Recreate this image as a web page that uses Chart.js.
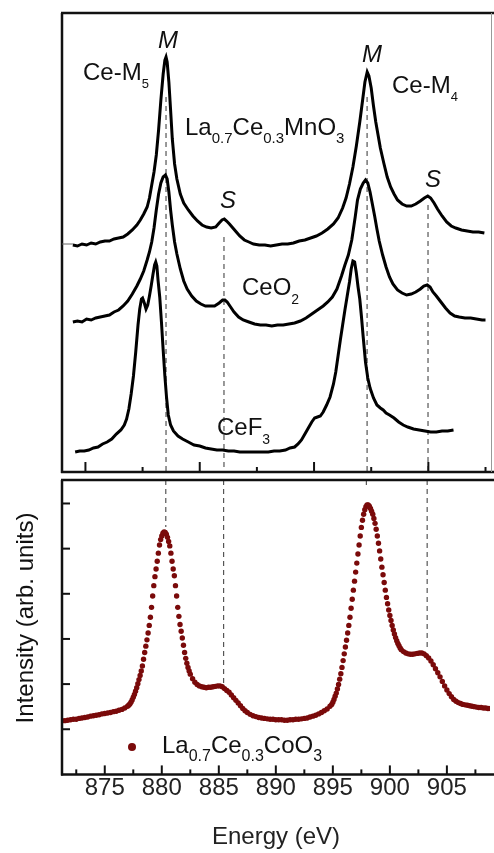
<!DOCTYPE html>
<html><head><meta charset="utf-8">
<script src="https://cdn.jsdelivr.net/npm/chart.js@4.4.0/dist/chart.umd.min.js"></script>
<style>
html,body{margin:0;padding:0;background:#fff;}
#wrap{position:relative;width:494px;height:853px;overflow:hidden;}
#top{position:absolute;left:0;top:0;}
#bot{position:absolute;left:0;top:476px;}
</style></head><body>
<div id="wrap"><canvas id="top" width="494" height="476"></canvas><canvas id="bot" width="494" height="377"></canvas></div>
<script>
// ---------------- DATA ----------------
const energyMn = [872.2,872.6,873.0,873.4,873.8,874.2,874.6,875.0,875.4,875.8,876.2,876.6,877.0,877.4,877.8,878.1,878.4,878.7,878.9,879.1,879.3,879.5,879.7,879.9,880.1,880.25,880.35,880.45,880.6,880.75,880.9,881.1,881.3,881.6,881.9,882.3,882.7,883.1,883.5,883.9,884.3,884.7,885.0,885.25,885.45,885.65,885.9,886.2,886.5,886.8,887.2,887.6,888.0,888.5,889.0,889.5,890.0,890.5,891.0,891.5,892.0,892.5,893.0,893.5,894.0,894.5,895.0,895.4,895.8,896.1,896.4,896.7,897.0,897.3,897.55,897.75,897.95,898.1,898.3,898.5,898.7,898.9,899.1,899.4,899.7,900.0,900.3,900.6,901.0,901.4,901.8,902.2,902.6,902.95,903.25,903.5,903.8,904.1,904.5,904.9,905.3,905.7,906.2,906.7,907.2,907.7,908.2];
const intensityMn = [2.27,2.26,2.28,2.27,2.29,2.28,2.30,2.31,2.31,2.33,2.34,2.35,2.38,2.42,2.47,2.52,2.58,2.65,2.74,2.87,3.00,3.17,3.42,3.72,3.98,4.12,4.15,4.10,3.90,3.62,3.33,3.08,2.93,2.78,2.69,2.62,2.56,2.51,2.47,2.45,2.44,2.45,2.49,2.52,2.53,2.51,2.48,2.44,2.40,2.36,2.32,2.30,2.28,2.27,2.27,2.26,2.27,2.28,2.28,2.29,2.31,2.32,2.34,2.36,2.39,2.43,2.48,2.54,2.64,2.74,2.88,3.05,3.26,3.50,3.72,3.90,4.00,3.96,3.84,3.66,3.50,3.37,3.24,3.09,2.95,2.85,2.78,2.72,2.68,2.66,2.66,2.68,2.71,2.74,2.76,2.74,2.69,2.63,2.56,2.50,2.46,2.44,2.42,2.41,2.40,2.40,2.39];

const energyCeO2 = [872.2,872.6,873.0,873.4,873.8,874.2,874.6,875.0,875.4,875.8,876.2,876.6,877.0,877.4,877.8,878.1,878.4,878.7,878.9,879.1,879.3,879.5,879.7,879.9,880.1,880.3,880.45,880.6,880.75,880.9,881.1,881.3,881.6,881.9,882.2,882.6,883.0,883.4,883.8,884.2,884.6,885.0,885.3,885.5,885.7,886.0,886.3,886.7,887.1,887.6,888.1,888.6,889.1,889.6,890.1,890.6,891.1,891.6,892.1,892.6,893.1,893.6,894.1,894.5,894.9,895.3,895.7,896.0,896.3,896.6,896.9,897.1,897.35,897.6,897.8,898.0,898.2,898.4,898.6,898.8,899.0,899.3,899.6,899.9,900.2,900.6,901.0,901.4,901.8,902.2,902.6,902.9,903.2,903.45,903.7,904.0,904.4,904.8,905.2,905.6,906.0,906.5,907.0,907.5,908.0,908.3];
const intensityCeO2 = [1.50,1.51,1.50,1.53,1.52,1.54,1.55,1.56,1.57,1.60,1.62,1.66,1.71,1.78,1.86,1.93,2.01,2.12,2.20,2.30,2.44,2.62,2.78,2.89,2.95,2.97,2.93,2.80,2.62,2.47,2.30,2.18,2.03,1.91,1.83,1.76,1.71,1.68,1.66,1.66,1.66,1.69,1.72,1.72,1.70,1.65,1.60,1.55,1.52,1.50,1.48,1.47,1.47,1.46,1.47,1.47,1.48,1.49,1.51,1.54,1.58,1.62,1.66,1.70,1.75,1.83,1.96,2.07,2.17,2.32,2.55,2.72,2.83,2.89,2.92,2.89,2.80,2.68,2.56,2.43,2.31,2.17,2.05,1.95,1.88,1.82,1.79,1.77,1.78,1.80,1.83,1.86,1.87,1.85,1.80,1.76,1.70,1.64,1.59,1.56,1.55,1.54,1.54,1.53,1.52,1.52];

const energyCeF3 = [872.4,872.8,873.2,873.6,874.0,874.4,874.8,875.2,875.6,876.0,876.4,876.7,876.9,877.1,877.3,877.5,877.7,877.9,878.05,878.2,878.3,878.45,878.6,878.75,878.9,879.05,879.2,879.35,879.45,879.55,879.65,879.8,879.95,880.1,880.25,880.4,880.55,880.75,881.0,881.4,881.8,882.3,882.8,883.3,883.8,884.3,884.8,885.3,885.8,886.3,886.8,887.3,887.8,888.3,888.8,889.3,889.8,890.3,890.8,891.2,891.6,891.9,892.2,892.5,892.8,893.1,893.35,893.6,893.85,894.1,894.4,894.7,895.0,895.2,895.4,895.6,895.8,896.0,896.2,896.4,896.55,896.7,896.85,897.0,897.15,897.3,897.45,897.6,897.8,898.0,898.2,898.5,898.8,899.1,899.35,899.6,899.9,900.3,900.7,901.1,901.5,902.0,902.5,903.0,903.5,904.0,904.5,905.0,905.5];
const intensityCeF3 = [0.20,0.21,0.21,0.22,0.24,0.25,0.28,0.30,0.33,0.38,0.42,0.47,0.53,0.63,0.78,0.96,1.20,1.47,1.63,1.73,1.74,1.69,1.63,1.67,1.76,1.86,1.97,2.07,2.10,2.06,1.92,1.75,1.50,1.22,0.96,0.74,0.57,0.47,0.41,0.36,0.33,0.30,0.27,0.26,0.24,0.23,0.22,0.22,0.21,0.21,0.20,0.20,0.20,0.20,0.20,0.20,0.21,0.21,0.22,0.24,0.25,0.28,0.32,0.38,0.44,0.50,0.54,0.55,0.56,0.60,0.67,0.75,0.88,1.00,1.16,1.32,1.47,1.62,1.76,1.90,2.03,2.11,2.10,1.99,1.85,1.73,1.55,1.35,1.10,0.94,0.84,0.74,0.67,0.64,0.62,0.59,0.57,0.54,0.50,0.47,0.45,0.43,0.42,0.41,0.40,0.40,0.41,0.41,0.42];

const energyCo = [871.0,871.25,871.5,871.75,872.0,872.25,872.5,872.75,873.0,873.25,873.5,873.75,874.0,874.25,874.5,874.75,875.0,875.25,875.5,875.75,876.0,876.25,876.5,876.75,877.0,
877.1,877.2,877.3,877.4,877.5,877.6,877.7,877.8,877.9,878.0,878.1,878.2,878.3,878.4,878.5,878.6,878.7,878.8,878.9,879.0,879.1,879.2,879.3,879.4,879.5,879.6,879.7,879.8,879.9,880.0,880.1,880.2,880.3,880.4,880.5,880.6,880.7,880.8,880.9,881.0,881.1,881.2,881.3,881.4,881.5,881.6,881.7,881.8,881.9,882.0,882.1,882.2,882.3,882.4,882.5,
882.7,882.9,883.1,883.3,883.5,883.7,883.9,884.1,884.3,884.5,884.7,884.9,885.1,885.3,885.5,885.7,885.9,886.1,886.3,886.5,886.7,886.9,887.1,887.3,887.5,
887.75,888.0,888.25,888.5,888.75,889.0,889.25,889.5,889.75,890.0,890.25,890.5,890.75,891.0,891.25,891.5,891.75,892.0,892.25,892.5,892.75,893.0,893.25,893.5,893.75,894.0,894.25,894.5,894.75,
894.9,895.0,895.1,895.2,895.3,895.4,895.5,895.6,895.7,895.8,895.9,896.0,896.1,896.2,896.3,896.4,896.5,896.6,896.7,896.8,896.9,897.0,897.1,897.2,897.3,897.4,897.5,897.6,897.7,897.8,897.9,898.0,898.1,898.2,898.3,898.4,898.5,898.6,898.7,898.8,898.9,899.0,899.1,899.2,899.3,899.4,899.5,899.6,899.7,899.8,899.9,900.0,900.1,900.2,900.3,900.4,900.5,900.6,900.7,900.8,900.9,901.0,
901.2,901.4,901.6,901.8,902.0,902.2,902.4,902.6,902.8,903.0,903.2,903.4,903.6,903.8,904.0,904.2,904.4,904.6,904.8,905.0,905.2,905.4,905.6,905.8,906.0,906.2,906.4,906.6,906.8,907.0,907.2,907.4,907.6,907.8,908.0,908.2,908.4,908.6,908.8,909.0];
const intensityCo = [1.18,1.19,1.19,1.20,1.21,1.22,1.22,1.24,1.25,1.26,1.27,1.29,1.30,1.31,1.32,1.34,1.35,1.36,1.37,1.39,1.40,1.42,1.44,1.47,1.51,
1.53,1.56,1.60,1.65,1.71,1.77,1.84,1.92,2.01,2.10,2.19,2.29,2.40,2.55,2.70,2.84,2.98,3.13,3.30,3.48,3.70,3.95,4.18,4.38,4.55,4.72,4.90,5.08,5.20,5.28,5.34,5.37,5.36,5.32,5.25,5.16,5.06,4.90,4.72,4.55,4.40,4.18,3.95,3.70,3.50,3.32,3.17,3.02,2.86,2.70,2.57,2.46,2.37,2.29,2.22,
2.12,2.04,1.99,1.96,1.94,1.93,1.92,1.93,1.93,1.94,1.95,1.96,1.96,1.94,1.90,1.86,1.82,1.76,1.70,1.64,1.58,1.52,1.46,1.41,1.37,
1.33,1.30,1.28,1.26,1.25,1.24,1.23,1.22,1.22,1.21,1.21,1.21,1.20,1.20,1.21,1.21,1.22,1.22,1.23,1.24,1.25,1.27,1.29,1.31,1.34,1.37,1.41,1.45,1.51,
1.55,1.60,1.66,1.73,1.80,1.89,1.99,2.11,2.23,2.37,2.52,2.67,2.82,2.97,3.13,3.30,3.48,3.68,3.88,4.08,4.28,4.48,4.68,4.88,5.08,5.28,5.47,5.63,5.76,5.86,5.93,5.97,5.97,5.94,5.89,5.83,5.76,5.67,5.56,5.43,5.28,5.12,4.95,4.77,4.59,4.42,4.25,4.08,3.92,3.78,3.64,3.52,3.41,3.30,3.20,3.11,3.03,2.96,2.90,2.85,2.80,2.76,
2.72,2.69,2.67,2.66,2.66,2.67,2.68,2.69,2.69,2.67,2.63,2.58,2.51,2.43,2.34,2.25,2.16,2.06,1.96,1.87,1.79,1.72,1.66,1.62,1.59,1.57,1.55,1.54,1.53,1.52,1.51,1.50,1.49,1.48,1.48,1.47,1.47,1.46,1.46,1.45];

// dashed guide lines (energies of M and S features)
const guideEnergy   = [880.35, 885.42, 897.94, 903.27];
const guideTopStart = [3.75, 2.35, 3.75, 2.67];   // top panel: from this intensity down to 0
const guideBotEnd   = [5.48, 2.00, 6.37, 2.80];   // bottom panel: from top down to this intensity

// ticks
const xTickLabels   = [875, 880, 885, 890, 895, 900, 905];
const xMinorTicks   = [872.5, 877.5, 882.5, 887.5, 892.5, 897.5, 902.5, 907.5];
const topPanelTicks = [873.3, 878.3, 883.3, 888.3, 893.3, 898.3, 903.3, 908.3];
const botYTicks     = [1, 2, 3, 4, 5, 6];
const topYTick      = [2.28];

const X_MIN = 871.25, X_MAX = 908.78;
const FONT = '"Liberation Sans", Arial, Helvetica, sans-serif';
Chart.defaults.font.family = FONT;

const pts = (xs, ys) => xs.map((x, i) => ({x: x, y: ys[i]}));

function rich(ctx, x, y, parts, size, subSize, subDy) {
  let cx = x;
  ctx.textAlign = 'left'; ctx.textBaseline = 'alphabetic';
  for (const [t, kind] of parts) {
    if (kind === 's') {
      ctx.font = subSize + 'px ' + FONT;
      ctx.fillText(t, cx, y + subDy);
    } else if (kind === 'i') {
      ctx.font = 'italic ' + size + 'px ' + FONT;
      ctx.fillText(t, cx, y);
    } else {
      ctx.font = size + 'px ' + FONT;
      ctx.fillText(t, cx, y);
    }
    cx += ctx.measureText(t).width;
  }
}

function line(ctx, x1, y1, x2, y2) { ctx.beginPath(); ctx.moveTo(x1, y1); ctx.lineTo(x2, y2); ctx.stroke(); }

// ---------------- TOP PANEL ----------------
const topFrame = {
  id: 'topFrame',
  afterDraw(chart) {
    const ctx = chart.ctx, a = chart.chartArea, xs = chart.scales.x, ys = chart.scales.y;
    ctx.save();
    ctx.strokeStyle = '#111'; ctx.lineWidth = 2.5; ctx.lineCap = 'butt';
    line(ctx, a.left - 1, a.top, chart.width, a.top);
    line(ctx, a.left, a.top, a.left, a.bottom + 1);
    line(ctx, a.left - 1, a.bottom, chart.width, a.bottom);
    ctx.lineWidth = 1; ctx.strokeStyle = '#999';
    line(ctx, a.right + 0.5, a.top, a.right + 0.5, a.bottom);
    ctx.strokeStyle = '#111'; ctx.lineWidth = 2;
    topPanelTicks.forEach((v, i) => {
      const px = xs.getPixelForValue(v);
      line(ctx, px, a.bottom, px, a.bottom - (i % 2 === 0 ? 10 : 5));
    });
    ctx.lineWidth = 1; ctx.strokeStyle = '#666';
    topYTick.forEach(v => { const py = ys.getPixelForValue(v); line(ctx, a.left, py, a.left + 11, py); });
    ctx.fillStyle = '#111';
    rich(ctx, 158, 48, [['M', 'i']], 24, 14, 8);
    rich(ctx, 362, 62, [['M', 'i']], 24, 14, 8);
    rich(ctx, 83, 80, [['Ce-M', 'n'], ['5', 's']], 24, 13, 8);
    rich(ctx, 185, 135, [['La', 'n'], ['0.7', 's'], ['Ce', 'n'], ['0.3', 's'], ['MnO', 'n'], ['3', 's']], 24, 15, 8);
    rich(ctx, 220, 208, [['S', 'i']], 24, 14, 8);
    rich(ctx, 425, 187, [['S', 'i']], 24, 14, 8);
    rich(ctx, 392, 93, [['Ce-M', 'n'], ['4', 's']], 24, 13, 8);
    rich(ctx, 242, 295, [['CeO', 'n'], ['2', 's']], 24, 14, 9);
    rich(ctx, 217, 435, [['CeF', 'n'], ['3', 's']], 24, 14, 9);
    ctx.restore();
  }
};

const curveStyle = {showLine: true, pointRadius: 0, borderColor: '#000', borderWidth: 3, tension: 0, fill: false};
const dashStyle = {showLine: true, pointRadius: 0, borderColor: '#555', borderWidth: 1.2, borderDash: [5, 4], fill: false};

const topDatasets = [
  Object.assign({label: 'La0.7Ce0.3MnO3', data: pts(energyMn, intensityMn)}, curveStyle),
  Object.assign({label: 'CeO2', data: pts(energyCeO2, intensityCeO2)}, curveStyle),
  Object.assign({label: 'CeF3', data: pts(energyCeF3, intensityCeF3)}, curveStyle)
];
guideEnergy.forEach((e, i) => topDatasets.push(Object.assign({label: 'g' + i, data: [{x: e, y: guideTopStart[i]}, {x: e, y: 0}]}, dashStyle)));

new Chart(document.getElementById('top'), {
  type: 'scatter',
  data: {datasets: topDatasets},
  options: {
    responsive: false, animation: false, devicePixelRatio: 1, events: [],
    layout: {padding: {left: 62, right: 3, top: 13, bottom: 4}},
    plugins: {legend: {display: false}, tooltip: {enabled: false}},
    scales: {
      x: {type: 'linear', min: X_MIN, max: X_MAX, display: false},
      y: {type: 'linear', min: 0, max: 4.59, display: false}
    }
  },
  plugins: [topFrame]
});

// ---------------- BOTTOM PANEL ----------------
const botFrame = {
  id: 'botFrame',
  afterDraw(chart) {
    const ctx = chart.ctx, a = chart.chartArea, xs = chart.scales.x, ys = chart.scales.y;
    ctx.save();
    ctx.strokeStyle = '#111'; ctx.lineWidth = 2.5;
    line(ctx, a.left - 1, a.top, chart.width, a.top);
    line(ctx, a.left, a.top, a.left, a.bottom + 1);
    line(ctx, a.left - 1, a.bottom, chart.width, a.bottom);
    ctx.lineWidth = 2;
    xTickLabels.forEach(v => { const px = xs.getPixelForValue(v); line(ctx, px, a.bottom, px, a.bottom - 9); });
    xMinorTicks.forEach(v => { const px = xs.getPixelForValue(v); line(ctx, px, a.bottom, px, a.bottom - 5); });
    botYTicks.forEach(v => { const py = ys.getPixelForValue(v); line(ctx, a.left, py, a.left + 8, py); });
    // legend
    ctx.fillStyle = '#7a0a0a';
    ctx.beginPath(); ctx.arc(132, 271, 4, 0, Math.PI * 2); ctx.fill();
    ctx.fillStyle = '#111';
    rich(ctx, 162, 277, [['La', 'n'], ['0.7', 's'], ['Ce', 'n'], ['0.3', 's'], ['CoO', 'n'], ['3', 's']], 24, 16, 8);
    // y title
    ctx.save();
    ctx.translate(33, 142); ctx.rotate(-Math.PI / 2);
    ctx.font = '24px ' + FONT; ctx.textAlign = 'center'; ctx.textBaseline = 'alphabetic';
    ctx.fillText('Intensity (arb. units)', 0, 0);
    ctx.restore();
    ctx.restore();
  }
};

const botDatasets = [
  {label: 'La0.7Ce0.3CoO3', data: pts(energyCo, intensityCo), showLine: false, pointRadius: 2.7, pointBackgroundColor: '#7a0a0a', pointBorderWidth: 0, backgroundColor: '#7a0a0a'}
];
guideEnergy.forEach((e, i) => botDatasets.push(Object.assign({label: 'h' + i, data: [{x: e, y: 6.52}, {x: e, y: guideBotEnd[i]}]}, dashStyle)));

new Chart(document.getElementById('bot'), {
  type: 'scatter',
  data: {datasets: botDatasets},
  options: {
    responsive: false, animation: false, devicePixelRatio: 1, events: [],
    layout: {padding: {left: 62, right: 3, top: 2, bottom: 0}},
    plugins: {legend: {display: false}, tooltip: {enabled: false}},
    scales: {
      x: {
        type: 'linear', min: X_MIN, max: X_MAX, position: 'bottom',
        afterBuildTicks: s => { s.ticks = xTickLabels.map(v => ({value: v})); },
        ticks: {font: {size: 24}, color: '#222', padding: 0, autoSkip: false, maxRotation: 0, callback: v => String(v)},
        grid: {display: false, drawTicks: false},
        border: {display: false},
        title: {display: true, text: 'Energy (eV)', font: {size: 24}, color: '#222', padding: {top: 20, bottom: 1}}
      },
      y: {type: 'linear', min: 0, max: 6.52, display: false}
    }
  },
  plugins: [botFrame]
});
</script>
</body></html>
